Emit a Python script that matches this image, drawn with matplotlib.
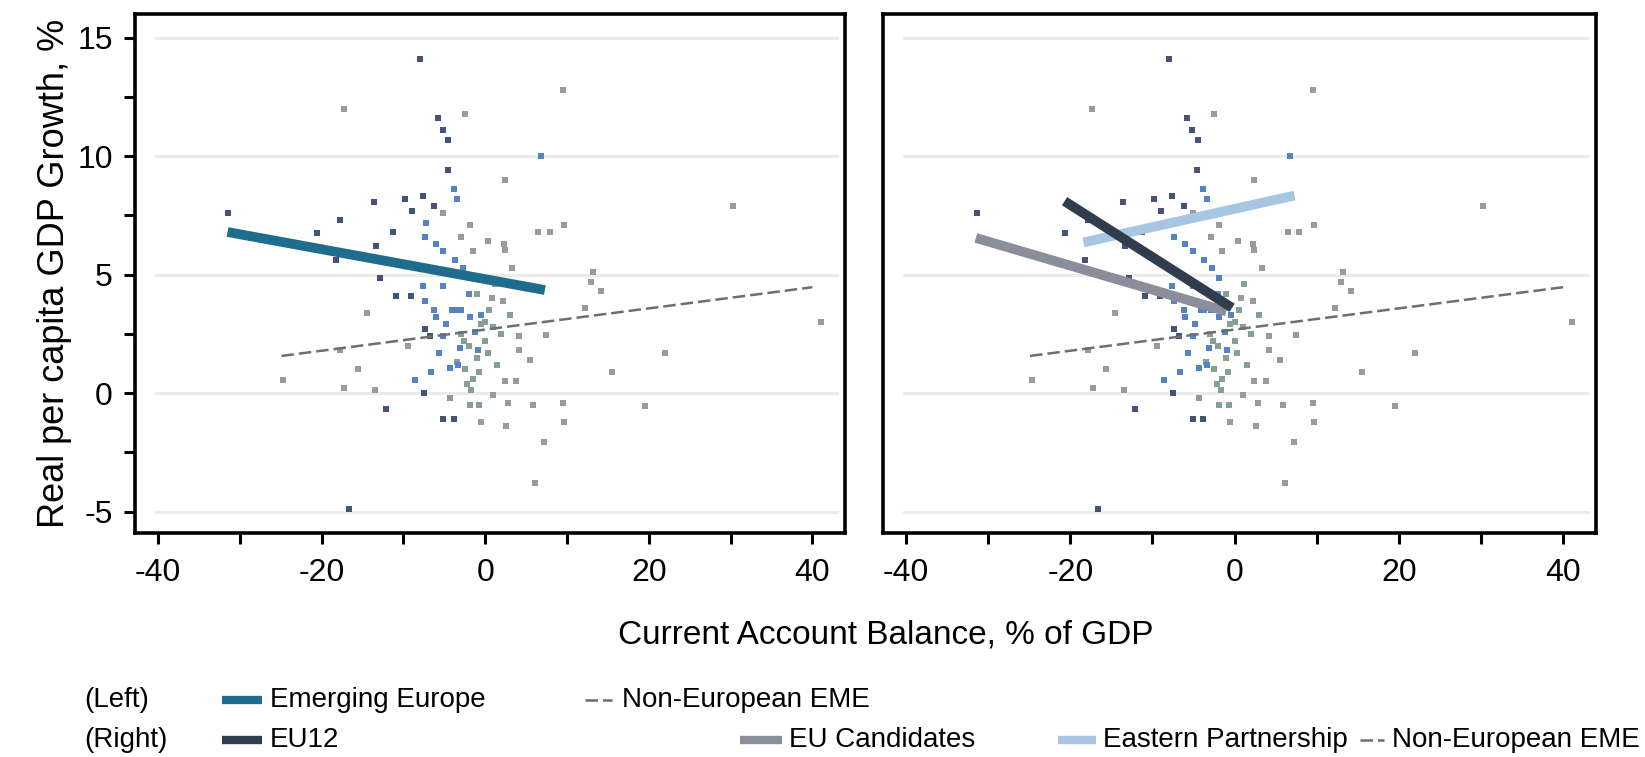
import numpy as np
import matplotlib.pyplot as plt
from matplotlib.lines import Line2D
from matplotlib.ticker import MultipleLocator

plt.rcParams['font.family'] = ['Liberation Sans', 'DejaVu Sans']

# Emerging Europe observations (current account % GDP, growth %)
ee_dark_x = [-8.0, -5.8, -5.2, -4.5, -9.8, -7.6, -6.2, -8.9, -31.4, -17.8, -20.6, -11.3,
             -13.3, -18.2, -12.8, -10.9, -9.1, -7.5, -12.1, -5.1, -3.8, -16.6, -7.4, -6.8,
             -13.6, -4.6]
ee_dark_y = [14.1, 11.6, 11.1, 10.7, 8.2, 8.3, 7.9, 7.7, 7.6, 7.3, 6.75, 6.8,
             6.2, 5.6, 4.85, 4.1, 4.1, 0.0, -0.65, -1.1, -1.1, -4.9, 2.7, 2.4,
             8.05, 9.4]
ee_blue_x = [-3.8, -3.4, -7.2, -7.4, -6.0, -5.1, -3.7, -2.7, -1.9, -7.6, -5.1, -7.4,
             -6.2, -6.0, -3.7, -5.1, -5.7, -3.1, -4.1, -2.9, -1.9, -0.45, 6.8, -4.3,
             -8.6, -6.6, -2.0, -1.2, -4.8, -3.3, -0.9]
ee_blue_y = [8.6, 8.2, 7.2, 6.6, 6.3, 6.0, 5.6, 5.3, 4.85, 4.5, 4.5, 3.9,
             3.5, 3.2, 3.5, 2.4, 1.7, 1.9, 3.5, 3.5, 3.2, 3.3, 10.0, 1.05,
             0.55, 0.9, 4.2, 2.6, 2.9, 1.2, 1.8]

# Non-European emerging market observations
ne_gray_x = [-17.3, -2.5, 9.5, 2.4, 30.3, 6.5, 7.9, 9.7, -5.1, -1.9, -2.9, 0.4,
             2.3, 2.4, -1.5, 3.3, 13.2, 13.0, 14.2, -14.5, -9.4, -17.8, -15.6, -24.7,
             -17.2, -13.5, 0.8, 2.2, 4.2, 7.5, 5.5, 4.2, 22.0, 15.5, 41.1, 2.4,
             3.8, 1.0, 2.8, 5.9, 9.5, 19.5, 2.6, 9.7, 7.2, 6.1, -0.5, 12.2]
ne_gray_y = [12.0, 11.8, 12.8, 9.0, 7.9, 6.8, 6.8, 7.1, 7.6, 7.1, 6.6, 6.4,
             6.3, 6.05, 6.0, 5.3, 5.1, 4.7, 4.3, 3.4, 2.0, 1.8, 1.0, 0.55,
             0.2, 0.13, 4.0, 3.9, 2.4, 2.45, 1.4, 1.8, 1.7, 0.9, 3.0, 0.5,
             0.5, -0.1, -0.4, -0.5, -0.4, -0.55, -1.4, -1.2, -2.05, -3.8, -1.2, 3.6]
ne_green_x = [-3.0, -2.0, -1.0, -2.5, -1.5, 0.0, 1.0, -0.5, 0.5, -1.0, 0.0, -3.5,
              -2.2, 1.5, 2.0, -0.8, -4.3, -1.7, -1.9, -0.7, 1.2, 3.0, -2.6, 0.3]
ne_green_y = [2.5, 2.0, 1.5, 1.0, 0.6, 2.2, 2.8, 2.9, 3.5, 4.2, 3.0, 1.3,
              0.4, 1.2, 2.5, 0.9, -0.2, 0.13, -0.5, -0.5, 4.6, 3.3, 2.2, 1.7]

# Fitted lines: (x0, y0, x1, y1)
fit_emerging = (-31.5, 6.8, 7.3, 4.35)
fit_non_euro = (-24.9, 1.57, 40.0, 4.47)
fit_eu12 = (-20.7, 8.1, -0.3, 3.6)
fit_candidates = (-31.5, 6.55, -1.0, 3.45)
fit_eap = (-18.4, 6.36, 7.3, 8.34)

c_emerging = '#1f6d8c'
c_eu12 = '#2f3d4f'
c_cand = '#8a8e9a'
c_eap = '#a6c6e2'
c_dash = '#6e6e6e'

fig = plt.figure(figsize=(16.45, 7.57), dpi=100)
ax1 = fig.add_axes([0.0821, 0.2960, 0.4316, 0.6855])
ax2 = fig.add_axes([0.5368, 0.2960, 0.4334, 0.6855])


def panel(ax):
    ax.set_xlim(-42.8, 44.0)
    ax.set_ylim(-5.9, 16.0)
    for g in [-5, 0, 5, 10, 15]:
        ax.plot([-40.2, 43.0], [g, g], color='#ebebeb', lw=2.2, zorder=0)
    ax.scatter(ne_gray_x, ne_gray_y, marker='s', s=20, color='#9a9a9a', lw=0, zorder=2)
    ax.scatter(ne_green_x, ne_green_y, marker='s', s=20, color='#86a093', lw=0, zorder=2)
    ax.scatter(ee_dark_x, ee_dark_y, marker='s', s=22, color='#44527c', lw=0, zorder=2)
    ax.scatter(ee_blue_x, ee_blue_y, marker='s', s=22, color='#5583c4', lw=0, zorder=2)
    ax.plot(fit_non_euro[::2], fit_non_euro[1::2], color=c_dash, lw=1.8,
            dashes=(5, 2), zorder=3)
    for s in ax.spines.values():
        s.set_linewidth(2.6)
    ax.xaxis.set_major_locator(MultipleLocator(20))
    ax.xaxis.set_minor_locator(MultipleLocator(10))
    ax.yaxis.set_major_locator(MultipleLocator(5))
    ax.yaxis.set_minor_locator(MultipleLocator(2.5))
    ax.tick_params(which='both', direction='out', length=8, width=2.2, labelsize=23)
    ax.tick_params(axis='x', pad=10)
    ax.tick_params(axis='y', pad=8)
    ax.set_xticks([-40, -20, 0, 20, 40])
    ax.set_xticklabels(['-40', '-20', '0', '20', '40'])


panel(ax1)
panel(ax2)
ax1.set_yticks([-5, 0, 5, 10, 15])
ax1.set_yticklabels(['-5', '0', '5', '10', '15'])
ax2.tick_params(axis='y', which='both', left=False, labelleft=False)

ax1.plot(fit_emerging[::2], fit_emerging[1::2], color=c_emerging, lw=7,
         solid_capstyle='butt', zorder=4)
ax2.plot(fit_candidates[::2], fit_candidates[1::2], color=c_cand, lw=7,
         solid_capstyle='butt', zorder=4)
ax2.plot(fit_eap[::2], fit_eap[1::2], color=c_eap, lw=7,
         solid_capstyle='butt', zorder=4)
ax2.plot(fit_eu12[::2], fit_eu12[1::2], color=c_eu12, lw=7,
         solid_capstyle='butt', zorder=5)

ax1.set_ylabel('Real per capita GDP Growth, %', fontsize=26, labelpad=4)
fig.text(886 / 1645, 1 - 635 / 757, 'Current Account Balance, % of GDP',
         ha='center', va='center', fontsize=24)


# legend drawn in figure pixels
def px(x, y):
    return x / 1645, 1 - y / 757


def key(x0, x1, y, color, dashed=False):
    xa, ya = px(x0, y)
    xb, _ = px(x1, y)
    if dashed:
        fig.add_artist(Line2D([xa, xb], [ya, ya], color=c_dash, lw=1.8, dashes=(5, 2)))
    else:
        fig.add_artist(Line2D([xa, xb], [ya, ya], color=color, lw=6, solid_capstyle='butt'))


def label(x, y, s):
    fig.text(*px(x, y), s, ha='left', va='center', fontsize=20)


row1, row2 = 700, 740
label(84, row1, '(Left)')
key(222, 262, row1, c_emerging)
label(270, row1, 'Emerging Europe')
key(585, 612, row1, None, dashed=True)
label(622, row1, 'Non-European EME')

label(84, row2, '(Right)')
key(222, 262, row2, c_eu12)
label(270, row2, 'EU12')
key(740, 782, row2, c_cand)
label(789, row2, 'EU Candidates')
key(1058, 1096, row2, c_eap)
label(1103, row2, 'Eastern Partnership')
key(1360, 1384, row2, None, dashed=True)
label(1392, row2, 'Non-European EME')

fig.savefig('out.png', dpi=100)
